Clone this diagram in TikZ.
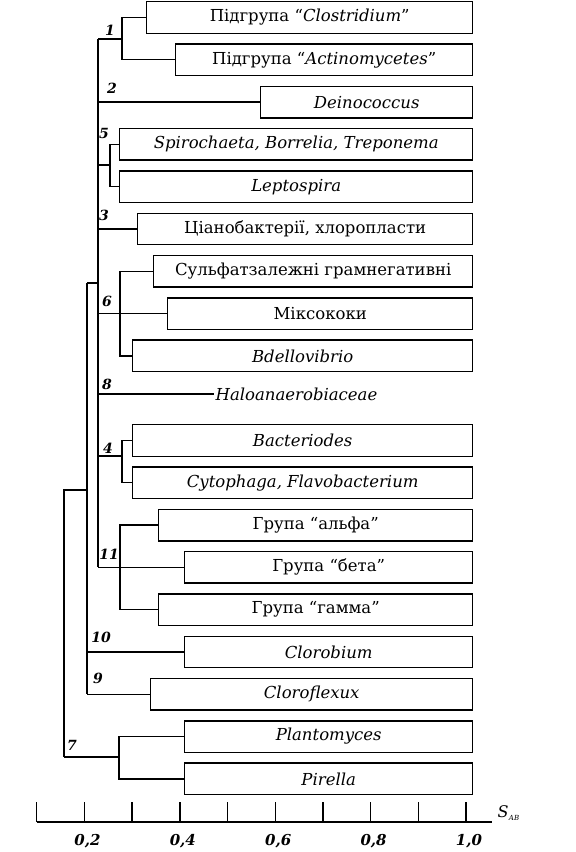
\documentclass[tikz,border=0pt]{standalone}
\usepackage{fontspec}
\setmainfont{DejaVu Serif}
\newcommand\fsbox{\fontsize{16.5}{18}\selectfont}
\newcommand\fsnum{\fontsize{14}{16}\selectfont}
\newcommand\fsax{\fontsize{15}{17}\selectfont}
\newcommand\bx[4]{\node[box, minimum width={(472-#2)*1pt}] (#1) at (#2, {1+42.3*#3}) {#4};}
\begin{document}
\begin{tikzpicture}[x=1pt,y=-1pt, line width=1.4pt,
  box/.style={draw, line width=1.4pt, anchor=north west, minimum height=31.5pt, inner sep=0pt, font=\fsbox},
  num/.style={font=\fsnum\itshape\bfseries, inner sep=0pt},
  axnum/.style={font=\fsax\itshape\bfseries, inner sep=0pt},
  link/.style={draw, line width=1.4pt}]
\useasboundingbox (0,0) rectangle (576,852);
% boxes
\bx{b1}{146}{0}{Підгрупа “\textit{Clostridium}”}
\bx{b2}{175}{1}{Підгрупа “\textit{Actinomycetes}”}
\bx{b3}{260}{2}{\textit{Deinococcus}}
\bx{b4}{119}{3}{\textit{Spirochaeta, Borrelia, Treponema}}
\bx{b5}{119}{4}{\textit{Leptospira}}
\bx{b6}{137}{5}{Ціанобактерії, хлоропласти}
\bx{b7}{153}{6}{Сульфатзалежні грамнегативні}
\bx{b8}{167}{7}{Міксококи}
\bx{b9}{132}{8}{\textit{Bdellovibrio}}
\bx{b11}{132}{10}{\textit{Bacteriodes}}
\bx{b12}{132}{11}{\textit{Cytophaga, Flavobacterium}}
\bx{b13}{158}{12}{Група “альфа”}
\bx{b14}{184}{13}{Група “бета”}
\bx{b15}{158}{14}{Група “гамма”}
\bx{b16}{184}{15}{\textit{Clorobium}}
\bx{b17}{150}{16}{\textit{Cloroflexux}}
\bx{b18}{184}{17}{\textit{Plantomyces}}
\bx{b19}{184}{18}{\textit{Pirella}}
\node[font=\fsbox\itshape, anchor=west, inner sep=1pt] (h) at (214,394) {Haloanaerobiaceae};
% junction coordinates
\coordinate (a1) at (98,39);
\coordinate (j1) at (122,39);
\coordinate (j5) at (110,165);
\coordinate (a5) at (98,165);
\coordinate (a2) at (a1 |- b3.west);
\coordinate (a3) at (a1 |- b6.west);
\coordinate (aB) at (98,283);
\coordinate (bt) at (87,283);
\coordinate (a6) at (a1 |- b8.west);
\coordinate (j6) at (120,0 |- b8.west);
\coordinate (a8) at (98,394);
\coordinate (a4) at (98,456);
\coordinate (j4) at (122,456);
\coordinate (a11) at (a1 |- b14.west);
\coordinate (j11) at (120,0 |- b14.west);
\coordinate (bC) at (87,490);
\coordinate (ct) at (64,490);
\coordinate (bw10) at (bt |- b16.west);
\coordinate (bw9) at (bt |- b17.west);
\coordinate (c7) at (64,757);
\coordinate (j7) at (119,757);
% connectors
\path[link] (a1) -- (a11);
\path[link] (a1) -- (j1);
\path[link] (b1.west) -| (j1) |- (b2.west);
\path[link] (a2) -- (b3.west);
\path[link] (a5) -- (j5);
\path[link] (b4.west) -| (j5) |- (b5.west);
\path[link] (a3) -- (b6.west);
\path[link] (aB) -- (bt);
\path[link] (a6) -- (b8.west);
\path[link] (b7.west) -| (j6) |- (b9.west);
\path[link] (a8) -- (h.west);
\path[link] (a4) -- (j4);
\path[link] (b11.west) -| (j4) |- (b12.west);
\path[link] (a11) -- (b14.west);
\path[link] (b13.west) -| (j11) |- (b15.west);
\path[link] (bt) -- (bw9);
\path[link] (bw10) -- (b16.west);
\path[link] (bw9) -- (b17.west);
\path[link] (bC) -- (ct) -- (c7);
\path[link] (c7) -- (j7);
\path[link] (b18.west) -| (j7) |- (b19.west);
% numbers
\node[num] (n1) at (110,30) {1};
\node[num] (n2) at (112,88) {2};
\node[num] (n5) at (104,133) {5};
\node[num] (n3) at (104,215) {3};
\node[num] (n6) at (107,301) {6};
\node[num] (n8) at (107,384) {8};
\node[num] (n4) at (108,448) {4};
\node[num] (n11) at (109,554) {11};
\node[num] (n10) at (101,637) {10};
\node[num] (n9) at (98,678) {9};
\node[num] (n7) at (72,745) {7};
% axis
\coordinate (ax0) at (36.7,822);
\coordinate (ax1) at (492,822);
\path[link] (ax0) -- (ax1);
\foreach \k in {0,...,9} {\draw[line width=1.4pt] (36.7+47.7*\k,822) -- ++(0,-20);}
\foreach \k/\t in {1/{0,2},3/{0,4},5/{0,6},7/{0,8},9/{1,0}}
  {\node[axnum] at (36.7+47.7*\k+3,841) {\t};}
\node[anchor=west, inner sep=0pt, font=\fontsize{16}{18}\selectfont\itshape] (sab) at (497,813) {S\kern0.3pt\raisebox{-3pt}{\fontsize{7}{7}\selectfont AB}};
\end{tikzpicture}
\end{document}
